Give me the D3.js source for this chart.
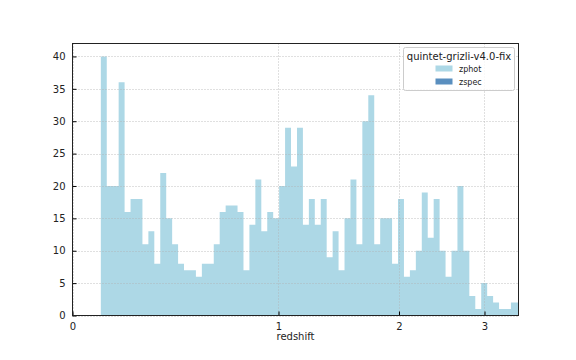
<!DOCTYPE html>
<html>
<head>
<meta charset="utf-8">
<script src="https://cdn.jsdelivr.net/npm/d3@7"></script>
<style>
  html, body { margin: 0; padding: 0; background: #fff; }
  svg { display: block; font-family: "DejaVu Sans", sans-serif; }
</style>
</head>
<body>
<svg id="chart" width="576" height="360"></svg>
<script>
// Bin edges in redshift (bins uniform in ln(1+z))
const binEdges = [0.1000,0.1222,0.1449,0.1680,0.1916,0.2157,0.2402,0.2653,0.2909,0.3169,
  0.3435,0.3707,0.3984,0.4266,0.4554,0.4848,0.5148,0.5454,0.5767,0.6085,
  0.6410,0.6742,0.7080,0.7425,0.7777,0.8136,0.8502,0.8876,0.9257,0.9646,
  1.0043,1.0448,1.0861,1.1283,1.1713,1.2151,1.2599,1.3055,1.3521,1.3996,
  1.4481,1.4976,1.5480,1.5995,1.6520,1.7056,1.7602,1.8160,1.8729,1.9309,
  1.9901,2.0505,2.1121,2.1750,2.2391,2.3046,2.3713,2.4394,2.5089,2.5798,
  2.6521,2.7259,2.8012,2.8780,2.9563,3.0362,3.1178,3.2009,3.2858,3.3724,
  3.4607,3.5508];
// zphot counts per bin
const zphotCounts = [40,20,20,36,16,18,18,11,13,8,
  22,15,11,8,7,7,6,8,8,11,
  16,17,17,16,7,14,21,13,16,15,
  20,29,23,29,14,18,14,18,9,13,
  7,15,21,11,30,34,11,15,15,8,
  18,6,7,10,19,12,18,10,6,10,
  20,10,3,1,5,3,2,1,1,2,
  2];
const xTickValues = [0, 1, 2, 3];
const yTickValues = [0, 5, 10, 15, 20, 25, 30, 35, 40];
const legendTitle = "quintet-grizli-v4.0-fix";
const legendLabels = ["zphot", "zspec"];
const legendColors = ["#add8e6", "#5a8fbf"];
const xLabel = "redshift";
const zMax = 3.485, yMax = 42;

const svg = d3.select("#chart");
const L = 72.5, R = 518.5, T = 43.5, B = 315.5;

const x = d3.scaleLog().domain([1, 1 + zMax]).range([L, R]);
const y = d3.scaleLinear().domain([0, yMax]).range([B, T]);

svg.append("defs").append("clipPath").attr("id", "clip")
  .append("rect").attr("x", L).attr("y", T).attr("width", R - L).attr("height", B - T);

// step points: left edge of each bin with its count, plus closing right edge
const stepPts = zphotCounts.map((c, i) => ({ z: binEdges[i], c }));
stepPts.push({ z: binEdges[zphotCounts.length], c: zphotCounts[zphotCounts.length - 1] });

const area = d3.area()
  .x(d => x(1 + d.z))
  .y0(y(0))
  .y1(d => y(d.c))
  .curve(d3.curveStepAfter);

svg.append("g").attr("clip-path", "url(#clip)")
  .append("path").datum(stepPts)
  .attr("d", area)
  .attr("fill", legendColors[0]);

// grid
const grid = svg.append("g").attr("stroke", "#b0b0b0").attr("stroke-width", 0.8)
  .attr("stroke-dasharray", "1,2");
grid.selectAll(".gy").data(yTickValues).enter().append("line")
  .attr("x1", L).attr("x2", R)
  .attr("y1", d => Math.round(y(d)) + 0.5).attr("y2", d => Math.round(y(d)) + 0.5);
grid.selectAll(".gx").data(xTickValues).enter().append("line")
  .attr("x1", d => Math.round(x(1 + d)) + 0.5).attr("x2", d => Math.round(x(1 + d)) + 0.5)
  .attr("y1", T).attr("y2", B);

// axes (ticks inward)
const xAxis = d3.axisBottom(x).tickValues(xTickValues.map(v => 1 + v))
  .tickFormat((d, i) => String(xTickValues[i])).tickSizeInner(-4).tickSizeOuter(0).tickPadding(7);
const gx = svg.append("g").attr("transform", `translate(0,${B})`).call(xAxis);
gx.select(".domain").remove();
gx.selectAll("text").attr("font-size", 10).attr("font-family", "DejaVu Sans").attr("fill", "#222");
gx.selectAll("line").attr("stroke", "#000");

const yAxis = d3.axisLeft(y).tickValues(yTickValues).tickSizeInner(-4).tickSizeOuter(0).tickPadding(7);
const gy = svg.append("g").attr("transform", `translate(${L},0)`).call(yAxis);
gy.select(".domain").remove();
gy.selectAll("text").attr("font-size", 10).attr("font-family", "DejaVu Sans").attr("fill", "#222");
gy.selectAll("line").attr("stroke", "#000");

// frame
svg.append("rect").attr("x", L).attr("y", T).attr("width", R - L).attr("height", B - T)
  .attr("fill", "none").attr("stroke", "#222").attr("stroke-width", 1);

// x label
svg.append("text").attr("x", (L + R) / 2).attr("y", 340).attr("text-anchor", "middle")
  .attr("font-size", 10).attr("fill", "#222").text(xLabel);

// legend
const lg = svg.append("g");
lg.append("rect").attr("x", 403.5).attr("y", 47.5).attr("width", 111).attr("height", 43)
  .attr("rx", 2).attr("fill", "#fff").attr("fill-opacity", 0.8)
  .attr("stroke", "#cccccc").attr("stroke-width", 1);
lg.append("text").attr("x", 459).attr("y", 59.5).attr("text-anchor", "middle")
  .attr("font-size", 10).attr("fill", "#222").text(legendTitle);
legendLabels.forEach((lab, i) => {
  lg.append("rect").attr("x", 435.5).attr("y", 65.5 + i * 13).attr("width", 17).attr("height", 6)
    .attr("fill", legendColors[i]);
  lg.append("text").attr("x", 459).attr("y", 72 + i * 13).attr("font-size", 8)
    .attr("fill", "#222").text(lab);
});
</script>
</body>
</html>
